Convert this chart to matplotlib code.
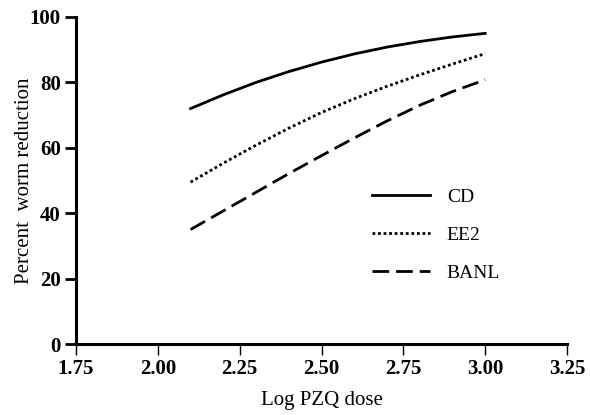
import numpy as np
import matplotlib
matplotlib.use("Agg")
import matplotlib.pyplot as plt

plt.rcParams['font.family'] = ['Liberation Serif', 'DejaVu Serif']

# values
log_dose = [2.1, 2.2, 2.3, 2.4, 2.5, 2.6, 2.7, 2.8, 2.9, 3.0]
cd = [72.0, 76.2, 80.0, 83.3, 86.2, 88.7, 90.8, 92.5, 93.9, 95.0]
ee2 = [49.5, 55.3, 60.8, 66.0, 70.8, 75.0, 78.8, 82.3, 85.6, 88.8]
banl = [35.0, 40.7, 46.4, 52.1, 57.6, 63.0, 68.2, 73.0, 77.2, 80.8]

x_ticks = [1.75, 2.00, 2.25, 2.50, 2.75, 3.00, 3.25]
y_ticks = [0, 20, 40, 60, 80, 100]

fig = plt.figure(figsize=(5.9, 4.15), dpi=100)
ax = fig.add_axes([76/590, 71/415, 491/590, 327/415])

ax.plot(log_dose, cd, color='black', lw=2, label='CD')
ax.plot(log_dose, ee2, color='black', lw=2, dashes=(1, 1), label='EE2')
ax.plot(log_dose, banl, color='black', lw=2, dashes=(6, 2.5), label='BANL')

ax.set_xlim(1.75, 3.25)
ax.set_ylim(0, 100)
ax.set_xticks(x_ticks)
ax.set_xticklabels(['%.2f' % t for t in x_ticks])
ax.set_yticks(y_ticks)

for s in ['top', 'right']:
    ax.spines[s].set_visible(False)
for s in ['left', 'bottom']:
    ax.spines[s].set_linewidth(2.2)

ax.tick_params(axis='x', direction='out', length=8, width=1, labelsize=15, pad=3)
ax.tick_params(axis='y', direction='out', length=8, width=2, labelsize=15, pad=3)
for lab in ax.get_xticklabels() + ax.get_yticklabels():
    lab.set_fontweight('bold')

ax.set_xlabel('Log PZQ dose', fontsize=15)
ax.set_ylabel('Percent  worm reduction', fontsize=15)
ax.xaxis.set_label_coords(0.5, -0.145)
ax.yaxis.set_label_coords(-0.086, 0.5)

leg = ax.legend(loc='upper left', bbox_to_anchor=(372/590, 1 - 188/415),
                bbox_transform=fig.transFigure, frameon=False, fontsize=14,
                handlelength=3.0, handletextpad=0.85, labelspacing=1.05,
                borderpad=0, borderaxespad=0)

fig.savefig('out.png', dpi=100)
